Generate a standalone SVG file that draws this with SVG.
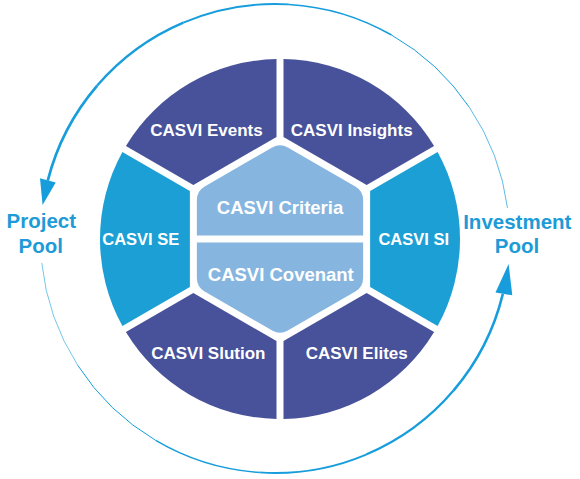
<svg xmlns="http://www.w3.org/2000/svg" width="580" height="479" viewBox="0 0 580 479">
<style>
.dark{fill:#47529A}
.blue{fill:#1C9FD4}
.hex{fill:#86B6DF}
.lbl{font-family:"Liberation Sans",Arial,sans-serif;font-weight:bold;fill:#FFFFFF;text-anchor:middle}
.out{font-family:"Liberation Sans",Arial,sans-serif;font-weight:bold;fill:#1E9BD7;text-anchor:middle;font-size:20.5px}
.arc{fill:none;stroke:#179DDC;stroke-linecap:butt}
.head{fill:#179DDC}
</style>
<defs>
<path id="sector" d="M -48.0 -90.14 L -86.95 -157.60 A 180 180 0 0 1 86.95 -157.60 L 48.0 -90.14 Z"/>
</defs>
<g id="connectors">
<g id="cycle-upper">
<path class="arc" stroke-width="0.7" d="M 507.49 207.89 A 234.5 234.5 0 0 0 469.64 107.71"/>
<path class="arc" stroke-width="1.0" d="M 469.64 107.71 A 234.5 234.5 0 0 0 391.54 35.01"/>
<path class="arc" stroke-width="1.5" d="M 391.54 35.01 A 234.5 234.5 0 0 0 288.91 4.41"/>
<path class="arc" stroke-width="1.9" d="M 288.91 4.41 A 234.5 234.5 0 0 0 183.37 22.64"/>
<path class="arc" stroke-width="2.3" d="M 183.37 22.64 A 234.5 234.5 0 0 0 97.22 85.58"/>
<path class="arc" stroke-width="2.7" d="M 97.22 85.58 A 234.5 234.5 0 0 0 47.76 180.58"/>
<polygon class="head" points="40,178.3 55.7,182.6 42.6,205"/>
</g>
<g id="cycle-lower">
<path class="arc" stroke-width="0.6" d="M 41.79 263.01 A 234.5 234.5 0 0 0 77.71 365.26"/>
<path class="arc" stroke-width="1.0" d="M 77.71 365.26 A 234.5 234.5 0 0 0 155.73 440.40"/>
<path class="arc" stroke-width="1.4" d="M 155.73 440.40 A 234.5 234.5 0 0 0 259.26 472.47"/>
<path class="arc" stroke-width="1.8" d="M 259.26 472.47 A 234.5 234.5 0 0 0 366.15 454.56"/>
<path class="arc" stroke-width="2.2" d="M 366.15 454.56 A 234.5 234.5 0 0 0 453.51 390.57"/>
<path class="arc" stroke-width="2.6" d="M 453.51 390.57 A 234.5 234.5 0 0 0 502.83 294.04"/>
<polygon class="head" points="495.5,292.5 512.3,295.3 508.6,264"/>
</g>
</g>
<g id="node-events">
<use href="#sector" class="dark" transform="translate(280 239) rotate(-30)"/>
<text class="lbl" x="206.5" y="136" font-size="17">CASVI Events</text>
</g>
<g id="node-insights">
<use href="#sector" class="dark" transform="translate(280 239) rotate(30)"/>
<text class="lbl" x="351.7" y="136" font-size="17">CASVI Insights</text>
</g>
<g id="node-si">
<use href="#sector" class="blue" transform="translate(280 239) rotate(90)"/>
<text class="lbl" x="413.7" y="245" font-size="16.5">CASVI SI</text>
</g>
<g id="node-elites">
<use href="#sector" class="dark" transform="translate(280 239) rotate(150)"/>
<text class="lbl" x="356.7" y="359.3" font-size="17">CASVI Elites</text>
</g>
<g id="node-slution">
<use href="#sector" class="dark" transform="translate(280 239) rotate(210)"/>
<text class="lbl" x="208.3" y="358.5" font-size="17">CASVI Slution</text>
</g>
<g id="node-se">
<use href="#sector" class="blue" transform="translate(280 239) rotate(-90)"/>
<text class="lbl" x="140.8" y="245" font-size="16.5">CASVI SE</text>
</g>
<g id="node-criteria">
<path class="hex" d="M 196.86 235.5 L 196.86 200 Q 196.86 191 204.65 186.5 L 272.2 147.5 Q 280 143 287.8 147.5 L 355.35 186.5 Q 363.14 191 363.14 200 L 363.14 235.5 Z"/>
<text class="lbl" x="280" y="213.5" font-size="18.5">CASVI Criteria</text>
</g>
<g id="node-covenant">
<path class="hex" d="M 196.86 242.5 L 363.14 242.5 L 363.14 278 Q 363.14 287 355.35 291.5 L 287.8 330.5 Q 280 335 272.2 330.5 L 204.65 291.5 Q 196.86 287 196.86 278 Z"/>
<text class="lbl" x="280.8" y="280.7" font-size="18.5">CASVI Covenant</text>
</g>
<g id="node-project-pool">
<text class="out" x="41.3" y="228.3">Project</text>
<text class="out" x="40.8" y="253.3">Pool</text>
</g>
<g id="node-investment-pool">
<text class="out" x="517.3" y="229.3">Investment</text>
<text class="out" x="517" y="253.3">Pool</text>
</g>
</svg>
